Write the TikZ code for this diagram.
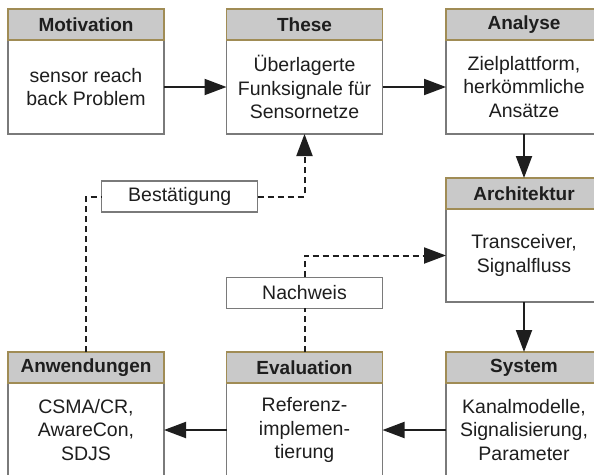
\documentclass[tikz,border=0pt]{standalone}
\usepackage{fontspec}
\setmainfont{Liberation Sans}
\usetikzlibrary{arrows.meta}
\definecolor{hdrfill}{HTML}{C9C9C9}
\definecolor{hdrline}{HTML}{A08C55}
\definecolor{boxline}{HTML}{7A7A7A}
\definecolor{ink}{HTML}{1E1E1E}
\begin{document}
\begin{tikzpicture}[x=1pt,y=-1pt,
  body/.style={draw=boxline, line width=1.1pt, fill=white, minimum width=156pt,
    minimum height=94pt, inner sep=0pt, outer sep=0pt, align=center, text=ink,
    font=\fontsize{19.5}{23.3}\selectfont},
  header/.style={draw=hdrline, line width=1.1pt, fill=hdrfill, minimum width=156pt,
    minimum height=31pt, inner sep=0pt, outer sep=0pt, text=ink,
    font=\bfseries\fontsize{19}{23}\selectfont},
  tag/.style={draw=boxline, line width=1.1pt, fill=white, minimum width=156pt,
    minimum height=31pt, inner sep=0pt, outer sep=0pt, text=ink,
    font=\fontsize{19.5}{23.3}\selectfont},
  flow/.style={line width=2pt, draw=ink, -{Triangle[length=22pt,width=16pt]}},
  dashline/.style={line width=2pt, draw=ink, dash pattern=on 6pt off 4pt}]
\clip (0,0) rectangle (594,474);
\fill[white] (0,0) rectangle (594,474);

% top row
\node[body, anchor=north] (motB) at (86,40) {sensor reach\\back Problem};
\node[header, anchor=north] (motH) at (86,9) {Motivation};
\node[body, anchor=north] (thsB) at (304.5,40) {Überlagerte\\Funksignale für\\Sensornetze};
\node[header, anchor=north] (thsH) at (304.5,9) {These};
\node[body, anchor=north] (anaB) at (524,40) {Zielplattform,\\herkömmliche\\Ansätze};
\node[header, anchor=north] (anaH) at (524,9) {Analyse};

% middle
\node[body, anchor=north, minimum height=93pt] (arcB) at (524,209) {Transceiver,\\Signalfluss};
\node[header, anchor=north] (arcH) at (524,178) {Architektur};

% bottom row
\node[body, anchor=north] (anwB) at (86,383) {CSMA/CR,\\AwareCon,\\SDJS};
\node[header, anchor=north] (anwH) at (86,352) {Anwendungen};
\node[body, anchor=north] (evaB) at (304.5,383) {Referenz-\\implemen-\\tierung};
\node[header, anchor=north] (evaH) at (304.5,352) {Evaluation};
\node[body, anchor=north] (sysB) at (524,383) {Kanalmodelle,\\Signalisierung,\\Parameter};
\node[header, anchor=north] (sysH) at (524,352) {System};

% feedback labels
\node[tag] (best) at (179.7,196.5) {Bestätigung};
\node[tag] (nach) at (304.5,292.8) {Nachweis};

% main flow
\draw[flow] (motB.east) -- (thsB.west);
\draw[flow] (thsB.east) -- (anaB.west);
\draw[flow] (anaB.south) -- (arcH.north);
\draw[flow] (arcB.south) -- (sysH.north);
\draw[flow] (sysB.west) -- (evaB.east);
\draw[flow] (evaB.west) -- (anwB.east);

% feedback paths
\draw[dashline] (anwH.north) |- (best.west);
\draw[dashline, -{Triangle[length=22pt,width=16pt]}] (best.east) -| (thsB.south);
\draw[dashline] (evaH.north) -- (nach.south);
\draw[dashline, -{Triangle[length=22pt,width=16pt]}] (nach.north) |- (arcB.west);
\end{tikzpicture}
\end{document}
